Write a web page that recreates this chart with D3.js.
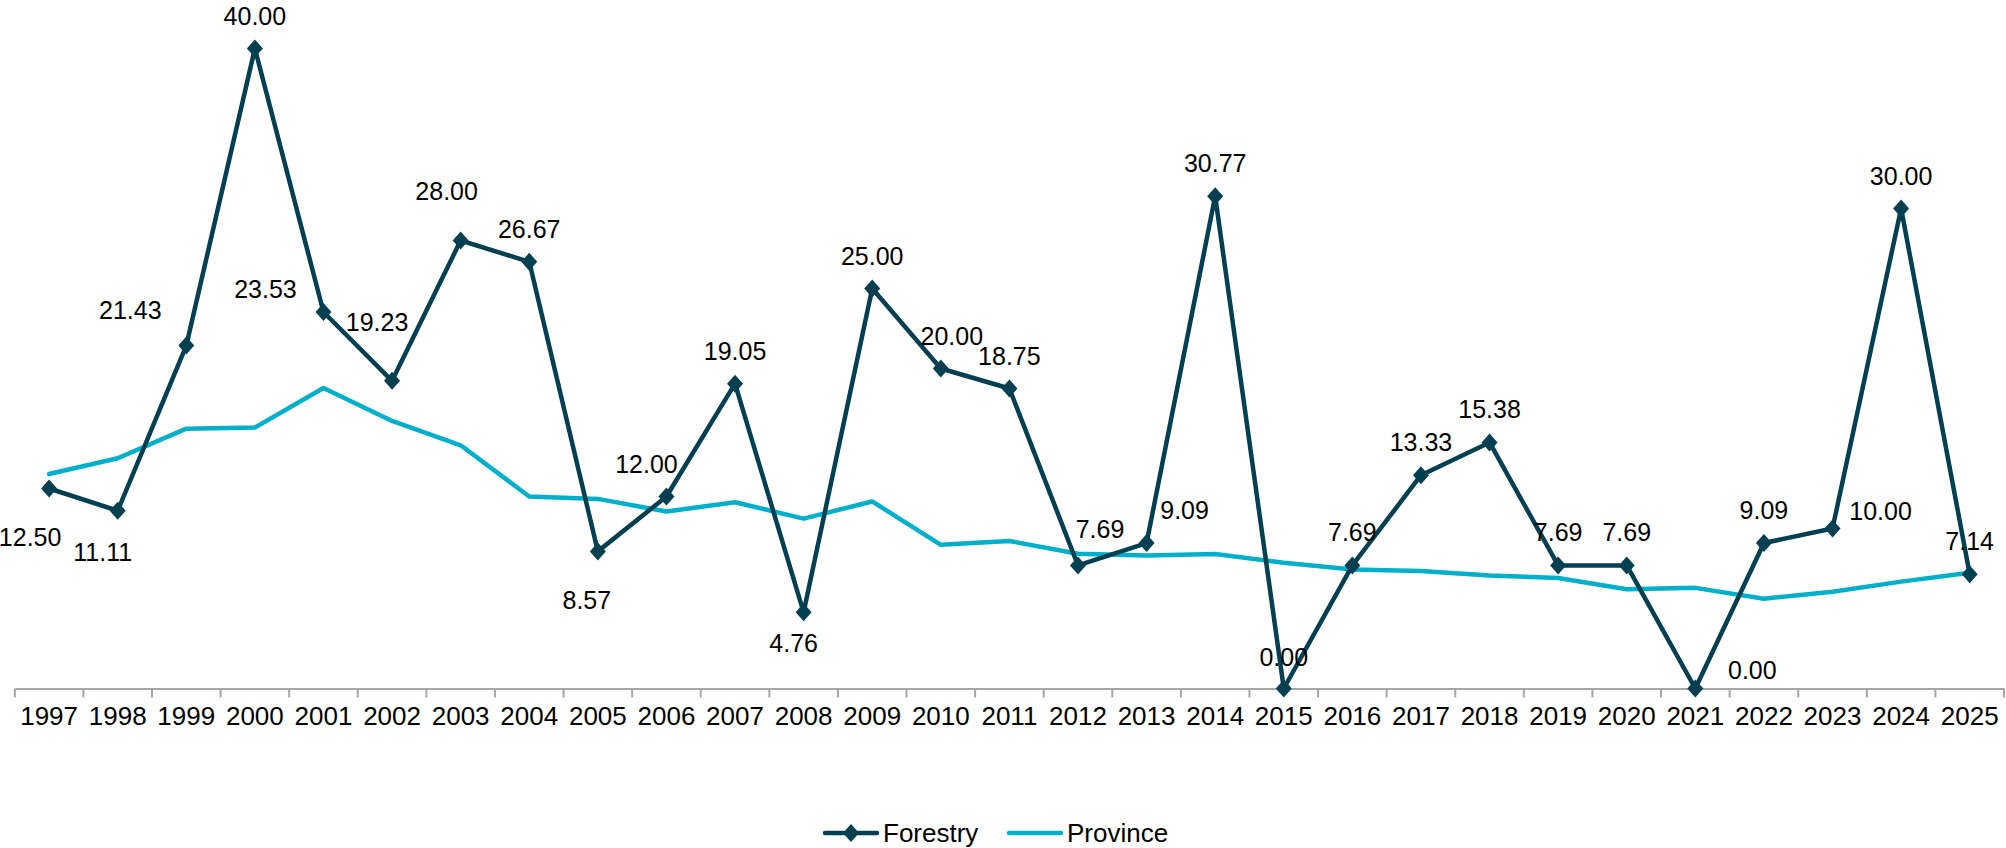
<!DOCTYPE html>
<html>
<head>
<meta charset="utf-8">
<script src="https://cdn.jsdelivr.net/npm/d3@7"></script>
<style>
  html, body { margin: 0; padding: 0; background: #fff; }
  svg { display: block; font-family: "Liberation Sans", Arial, sans-serif; }
</style>
</head>
<body>
<svg id="chart" width="2006" height="848"></svg>
<script>
// ---- data ----
const years = ["1997","1998","1999","2000","2001","2002","2003","2004","2005","2006",
  "2007","2008","2009","2010","2011","2012","2013","2014","2015","2016",
  "2017","2018","2019","2020","2021","2022","2023","2024","2025"];
const forestry = [12.50, 11.11, 21.43, 40.00, 23.53, 19.23, 28.00, 26.67, 8.57, 12.00,
  19.05, 4.76, 25.00, 20.00, 18.75, 7.69, 9.09, 30.77, 0.00, 7.69,
  13.33, 15.38, 7.69, 7.69, 0.00, 9.09, 10.00, 30.00, 7.14];
const province = [13.41, 14.39, 16.24, 16.31, 18.78, 16.72, 15.2, 12.0, 11.85, 11.06,
  11.64, 10.62, 11.69, 8.98, 9.22, 8.42, 8.32, 8.40, 7.86, 7.44,
  7.35, 7.07, 6.91, 6.2, 6.29, 5.61, 6.05, 6.68, 7.23];
const seriesNames = ["Forestry", "Province"];

// ---- layout (label placement offsets, px relative to marker) ----
const labelOffsets = [
  [-19, 48], [-15, 41], [-56, -36], [0, -33], [-58, -23], [-15, -59], [-14, -50], [0, -33],
  [-11, 49], [-20, -33], [0, -33], [-10, 31], [0, -33], [11, -33], [0, -33], [22, -36],
  [38, -33], [0, -33], [0, -32], [0, -33], [0, -33], [0, -33], [0, -33], [0, -33],
  [57, -19], [0, -33], [48, -18], [0, -33], [0, -33]
];

const colForestry = "#023F50";
const colProvince = "#00B0CB";

const svg = d3.select("#chart");
const x = d3.scaleBand().domain(years).range([14.8, 2004]).padding(0);
const y = d3.scaleLinear().domain([0, 40]).range([688.5, 48.5]);
const cx = d => x(d) + x.bandwidth() / 2;

// axis
const axisY = y(0);
const axis = d3.axisBottom(x).tickSize(0).tickPadding(18);
const gAxis = svg.append("g").attr("transform", `translate(0,${axisY})`).call(axis);
gAxis.select(".domain").attr("stroke", "#A6A6A6").attr("stroke-width", 2);
gAxis.selectAll(".tick text")
  .attr("font-size", 26).attr("fill", "#000")
  .attr("font-family", "'Liberation Sans', Arial, sans-serif");
const edges = years.map(d => x(d)).concat([x.range()[1]]);
gAxis.selectAll("line.edge").data(edges).enter().append("line")
  .attr("class", "edge")
  .attr("x1", d => d).attr("x2", d => d)
  .attr("y1", 0).attr("y2", 9)
  .attr("stroke", "#A6A6A6").attr("stroke-width", 2);

// province line
const lineGen = d3.line().x((d, i) => cx(years[i])).y(d => y(d));
svg.append("path").datum(province)
  .attr("d", lineGen)
  .attr("fill", "none").attr("stroke", colProvince).attr("stroke-width", 4.5)
  .attr("stroke-linejoin", "round").attr("stroke-linecap", "round");

// forestry line
svg.append("path").datum(forestry)
  .attr("d", lineGen)
  .attr("fill", "none").attr("stroke", colForestry).attr("stroke-width", 4.5)
  .attr("stroke-linejoin", "round");

const diamond = "M0,-9L8,0L0,9L-8,0Z";
svg.append("g").selectAll("path").data(forestry).enter().append("path")
  .attr("d", diamond)
  .attr("transform", (d, i) => `translate(${cx(years[i])},${y(d)})`)
  .attr("fill", colForestry);

// labels
svg.append("g").selectAll("text").data(forestry).enter().append("text")
  .attr("x", (d, i) => cx(years[i]) + labelOffsets[i][0])
  .attr("y", (d, i) => y(d) + labelOffsets[i][1])
  .attr("dy", "0.36em")
  .attr("text-anchor", "middle")
  .attr("font-size", 25)
  .attr("fill", "#000")
  .text(d => d3.format(".2f")(d));

// legend
const lg = svg.append("g");
const legY = 833;
lg.append("line").attr("x1", 825).attr("x2", 877).attr("y1", legY).attr("y2", legY)
  .attr("stroke", colForestry).attr("stroke-width", 4.5).attr("stroke-linecap", "round");
lg.append("path").attr("d", diamond).attr("transform", `translate(851,${legY})`).attr("fill", colForestry);
lg.append("text").attr("x", 883).attr("y", legY).attr("dy", "0.36em")
  .attr("font-size", 26).attr("fill", "#000").text(seriesNames[0]);
lg.append("line").attr("x1", 1009).attr("x2", 1061).attr("y1", legY).attr("y2", legY)
  .attr("stroke", colProvince).attr("stroke-width", 4.5).attr("stroke-linecap", "round");
lg.append("text").attr("x", 1067).attr("y", legY).attr("dy", "0.36em")
  .attr("font-size", 26).attr("fill", "#000").text(seriesNames[1]);
</script>
</body>
</html>
